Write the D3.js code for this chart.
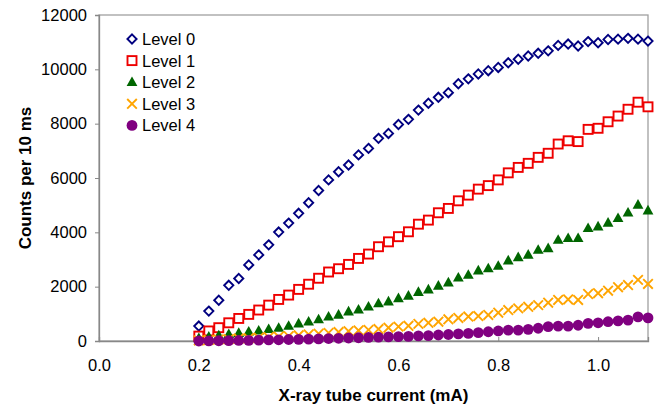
<!DOCTYPE html>
<html>
<head>
<meta charset="utf-8">
<script src="https://cdn.jsdelivr.net/npm/d3@7.9.0/dist/d3.min.js"></script>
<style>
  body { margin: 0; background: #fff; }
  svg { display: block; font-family: "Liberation Sans", Arial, sans-serif; }
</style>
</head>
<body>
<svg id="chart" width="659" height="406"></svg>
<script>
// tube current (mA)
const current = [0.20, 0.22, 0.24, 0.26, 0.28, 0.30, 0.32, 0.34, 0.36, 0.38,
  0.40, 0.42, 0.44, 0.46, 0.48, 0.50, 0.52, 0.54, 0.56, 0.58,
  0.60, 0.62, 0.64, 0.66, 0.68, 0.70, 0.72, 0.74, 0.76, 0.78,
  0.80, 0.82, 0.84, 0.86, 0.88, 0.90, 0.92, 0.94, 0.96, 0.98,
  1.00, 1.02, 1.04, 1.06, 1.08, 1.10];

const level0 = [550, 1100, 1500, 2050, 2300, 2800, 3170, 3540, 4010, 4340,
  4700, 5090, 5540, 5930, 6230, 6480, 6850, 7090, 7460, 7640,
  7970, 8160, 8500, 8750, 8970, 9140, 9470, 9650, 9830, 9950,
  10070, 10240, 10370, 10490, 10590, 10680, 10880, 10930, 10860, 11020,
  10980, 11100, 11110, 11140, 11110, 11040];

const level1 = [180, 370, 490, 670, 830, 980, 1140, 1320, 1530, 1690,
  1900, 2090, 2310, 2540, 2660, 2820, 3040, 3200, 3470, 3650,
  3840, 4020, 4300, 4450, 4720, 4880, 5160, 5370, 5590, 5720,
  5930, 6190, 6390, 6540, 6760, 6910, 7250, 7370, 7340, 7790,
  7830, 8070, 8280, 8530, 8790, 8620];

const level2 = [100, 150, 200, 250, 290, 340, 380, 430, 480, 550,
  640, 710, 790, 890, 960, 1080, 1150, 1260, 1380, 1450,
  1570, 1660, 1800, 1890, 2030, 2150, 2330, 2430, 2590, 2670,
  2760, 2960, 3080, 3170, 3350, 3410, 3720, 3780, 3780, 4150,
  4210, 4350, 4520, 4720, 5010, 4800];

const level3 = [20, 40, 60, 70, 90, 100, 120, 140, 160, 180,
  210, 240, 270, 300, 330, 360, 390, 410, 440, 490,
  530, 560, 630, 670, 710, 800, 850, 900, 920, 960,
  1040, 1140, 1200, 1260, 1320, 1410, 1510, 1530, 1510, 1730,
  1760, 1850, 1980, 2060, 2250, 2100];

const level4 = [0, 5, 10, 15, 20, 25, 30, 40, 45, 55,
  60, 70, 80, 90, 100, 110, 120, 130, 140, 150,
  160, 170, 190, 200, 220, 240, 260, 280, 310, 340,
  370, 400, 400, 430, 470, 530, 550, 550, 580, 650,
  670, 710, 740, 770, 890, 850];

const levelNames = ['Level 0', 'Level 1', 'Level 2', 'Level 3', 'Level 4'];
const xTicks = [0.0, 0.2, 0.4, 0.6, 0.8, 1.0];
const yTicks = [0, 2000, 4000, 6000, 8000, 10000, 12000];

const series = [
  { name: levelNames[0], values: level0, shape: 'diamond', color: '#000080' },
  { name: levelNames[1], values: level1, shape: 'square', color: '#ee0000' },
  { name: levelNames[2], values: level2, shape: 'triangle', color: '#006600' },
  { name: levelNames[3], values: level3, shape: 'cross', color: '#ffa500' },
  { name: levelNames[4], values: level4, shape: 'circle', color: '#800080' },
];

const margin = { top: 15, right: 11, bottom: 65, left: 99 };
const width = 659 - margin.left - margin.right;
const height = 406 - margin.top - margin.bottom;

const svg = d3.select('#chart');
const g = svg.append('g').attr('transform', `translate(${margin.left},${margin.top})`);

const x = d3.scaleLinear().domain([0, 1.1]).range([0, width]);
const y = d3.scaleLinear().domain([0, 12000]).range([height, 0]);

// plot frame
g.append('rect')
  .attr('x', 0).attr('y', 0)
  .attr('width', width).attr('height', height)
  .attr('fill', 'none')
  .attr('stroke', '#a0a0a0')
  .attr('stroke-width', 1.3);

// y axis, ticks outside
const yAxis = g.append('g')
  .call(d3.axisLeft(y).tickValues(yTicks).tickSize(4).tickPadding(8).tickFormat(d3.format('d')));
yAxis.select('.domain').attr('stroke', '#888').attr('stroke-width', 1.3);
yAxis.selectAll('.tick line').attr('stroke', '#888');
yAxis.selectAll('.tick text')
  .attr('font-size', 16.5).attr('fill', '#000')
  .attr('font-family', '"Liberation Sans", Arial, sans-serif');

// x axis, ticks inside
const xAxis = g.append('g')
  .attr('transform', `translate(0,${height})`)
  .call(d3.axisBottom(x).tickValues(xTicks).tickSize(-4).tickPadding(18).tickFormat(d3.format('.1f')));
xAxis.select('.domain').attr('stroke', '#888').attr('stroke-width', 1.3);
xAxis.selectAll('.tick line').attr('stroke', '#888');
xAxis.selectAll('.tick text')
  .attr('font-size', 16.5).attr('fill', '#000')
  .attr('font-family', '"Liberation Sans", Arial, sans-serif');

// axis titles
svg.append('text')
  .attr('x', margin.left + x(0.55))
  .attr('y', 401)
  .attr('text-anchor', 'middle')
  .attr('font-size', 17).attr('font-weight', 'bold')
  .text('X-ray tube current (mA)');

svg.append('text')
  .attr('transform', `translate(31,${margin.top + height / 2}) rotate(-90)`)
  .attr('text-anchor', 'middle')
  .attr('font-size', 17).attr('font-weight', 'bold')
  .text('Counts per 10 ms');

// marker drawing
function drawMarker(sel, shape, color) {
  if (shape === 'diamond') {
    sel.append('path').attr('d', 'M0,-4.6L4.6,0L0,4.6L-4.6,0Z')
      .attr('fill', '#fff').attr('stroke', color).attr('stroke-width', 1.9);
  } else if (shape === 'square') {
    sel.append('rect').attr('x', -4.5).attr('y', -4.5).attr('width', 9).attr('height', 9)
      .attr('fill', '#fff').attr('stroke', color).attr('stroke-width', 1.9);
  } else if (shape === 'triangle') {
    sel.append('path').attr('d', 'M0,-5.8L5.4,3.8L-5.4,3.8Z').attr('fill', color);
  } else if (shape === 'cross') {
    sel.append('path').attr('d', 'M-4.8,-4.8L4.8,4.8M-4.8,4.8L4.8,-4.8')
      .attr('stroke', color).attr('stroke-width', 1.9).attr('fill', 'none');
  } else {
    sel.append('circle').attr('r', 5.4).attr('fill', color);
  }
}

series.forEach((s) => {
  const pts = g.append('g')
    .selectAll('g')
    .data(current.map((c, i) => ({ c, v: s.values[i] })))
    .join('g')
    .attr('transform', (d) => `translate(${x(d.c)},${y(d.v)})`);
  pts.each(function () { drawMarker(d3.select(this), s.shape, s.color); });
});

// legend
const legend = svg.append('g').attr('transform', 'translate(132,39)');
series.forEach((s, i) => {
  const row = legend.append('g').attr('transform', `translate(0,${i * 21.6})`);
  drawMarker(row, s.shape, s.color);
  row.append('text')
    .attr('x', 10).attr('y', 6)
    .attr('font-size', 16.5)
    .text(s.name);
});
</script>
</body>
</html>
